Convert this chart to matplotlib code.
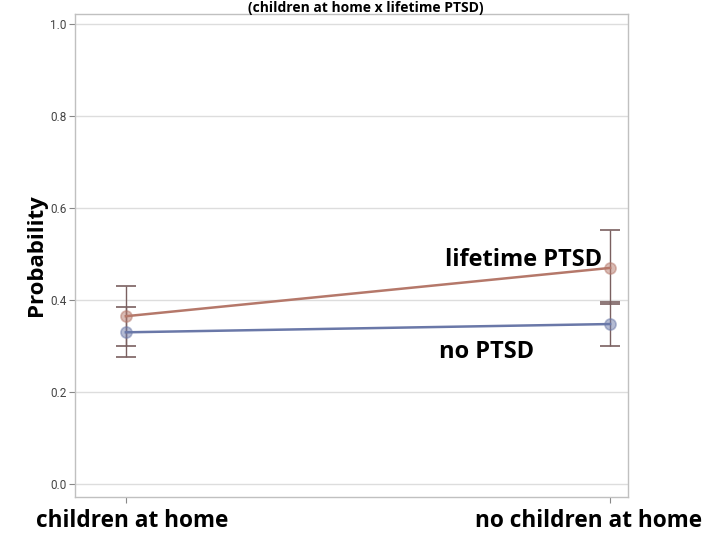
import matplotlib
matplotlib.use("Agg")
import matplotlib.pyplot as plt
from matplotlib.transforms import blended_transform_factory

# Predicted probabilities with confidence limits
categories = ["children at home", "no children at home"]
groups = ["lifetime PTSD", "no PTSD"]
ptsd_prob = [0.365, 0.470]
ptsd_lower = [0.300, 0.392]
ptsd_upper = [0.430, 0.553]
nops_prob = [0.330, 0.348]
nops_lower = [0.277, 0.301]
nops_upper = [0.386, 0.397]
y_ticks = [0.0, 0.2, 0.4, 0.6, 0.8, 1.0]
y_tick_labels = ["0.0", "0.2", "0.4", "0.6", "0.8", "1.0"]

W, H = 710, 541
fig = plt.figure(figsize=(W / 100, H / 100), dpi=100)
ax = fig.add_axes([75 / W, 1 - 497 / H, (628 - 75) / W, (497 - 14) / H])

x = list(range(len(categories)))
red = "#b5786a"
blue = "#6a78a8"
err_col = "#7a6060"

series = [
    (ptsd_prob, ptsd_lower, ptsd_upper, red),
    (nops_prob, nops_lower, nops_upper, blue),
]
for prob, lo, hi, col in series:
    yerr = [[p - l for p, l in zip(prob, lo)], [h - p for p, h in zip(prob, hi)]]
    ax.errorbar(x, prob, yerr=yerr, fmt="none", ecolor=err_col, elinewidth=1.0,
                capsize=7, capthick=1.2, zorder=3)
    ax.plot(x, prob, color=col, lw=1.8, zorder=4)
    ax.plot(x, prob, "o", ms=8, mfc=col, mec=col, alpha=0.5, mew=1.2, zorder=5)

ax.set_xlim(-0.105, 1.037)
ax.set_ylim(-0.028, 1.022)
ax.set_yticks(y_ticks)
ax.set_yticklabels(y_tick_labels, family="Roboto", fontsize=8.5, color="#444444")
ax.set_xticks(x)
ax.set_xticklabels([])
ax.tick_params(axis="both", colors="#888888", length=4, width=0.8, pad=2,
               labelcolor="#444444")
ax.grid(axis="y", color="#dddddd", lw=1.0)
ax.set_axisbelow(True)
for s in ax.spines.values():
    s.set_color("#c0c0c0")
    s.set_linewidth(1.0)

ax.set_ylabel("Probability", family="Open Sans", fontweight="bold", fontsize=16)
ax.yaxis.set_label_coords(-0.05, 0.5)

# Series labels
ax.text(0.822, 0.487, groups[0], family="Open Sans", fontweight="bold", fontsize=17,
        ha="center", va="center")
ax.text(0.744, 0.287, groups[1], family="Open Sans", fontweight="bold", fontsize=17,
        ha="center", va="center")

# Category labels below the axis
tr = blended_transform_factory(ax.transData, fig.transFigure)
ax.text(0.014, 1 - 521 / H, categories[0], transform=tr, family="Open Sans",
        fontweight="bold", fontsize=16.3, ha="center", va="center")
ax.text(0.955, 1 - 521 / H, categories[1], transform=tr, family="Open Sans",
        fontweight="bold", fontsize=16.3, ha="center", va="center")

fig.text(0.515, 1 - 1 / H, "(children at home x lifetime PTSD)", family="Open Sans",
         fontweight="bold", fontsize=10, ha="center", va="top")

fig.savefig("out.png", dpi=100, facecolor="white")
